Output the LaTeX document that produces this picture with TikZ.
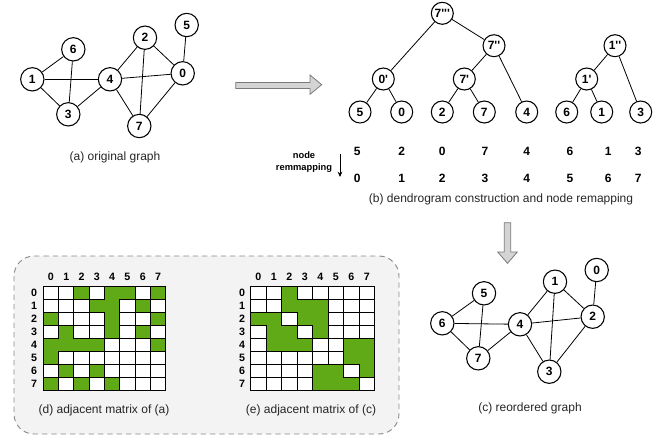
\documentclass[tikz,border=0pt]{standalone}
\usepackage{fontspec}
\setmainfont{Liberation Sans}
\usetikzlibrary{arrows.meta}
\definecolor{mgreen}{HTML}{60A917}
\definecolor{boxfill}{HTML}{F3F3F3}
\definecolor{boxline}{HTML}{8A8A8A}
\definecolor{arrfill}{HTML}{D4D4D4}
\definecolor{arrline}{HTML}{7A7A7A}
\newcommand{\pr}{\textquotesingle}
\tikzset{
  gnode/.style={circle,draw=black,line width=0.8pt,fill=white,minimum size=17.5pt,inner sep=0pt,font=\fontsize{9}{10}\selectfont\bfseries},
  tnode/.style={circle,draw=black,line width=0.8pt,fill=white,minimum size=16.5pt,inner sep=0pt,font=\fontsize{9}{10}\selectfont\bfseries},
  edge/.style={line width=0.6pt,black},
  caption/.style={font=\fontsize{9}{10}\selectfont,text=black!85},
  remap/.style={font=\fontsize{9}{10}\selectfont\bfseries},
  mlabel/.style={font=\fontsize{8}{9}\selectfont\bfseries,inner sep=0pt},
  bigarrow/.style={fill=arrfill,draw=arrline,line width=0.6pt},
}
\begin{document}
\begin{tikzpicture}[x=0.75pt,y=-0.75pt]
\useasboundingbox (0,0) rectangle (667,436);

% ---------- (a) original graph ----------
\node[gnode] (a6) at (73.3,49.3) {6};
\node[gnode] (a1) at (32.3,79.3) {1};
\node[gnode] (a3) at (68.3,114.3) {3};
\node[gnode] (a4) at (110,79.3) {4};
\node[gnode] (a2) at (145,37.7) {2};
\node[gnode] (a0) at (182.7,73.3) {0};
\node[gnode] (a5) at (186.7,25) {5};
\node[gnode] (a7) at (139.3,126) {7};
\begin{scope}[on background layer/.style={}]
\foreach \u/\v in {a1/a6,a1/a4,a1/a3,a6/a3,a3/a4,a4/a2,a4/a0,a4/a7,a2/a0,a2/a7,a0/a7,a0/a5}
  \draw[edge] (\u) -- (\v);
\end{scope}
\node[caption] (capa) at (115,157) {(a) original graph};

% ---------- big right arrow ----------
\draw[bigarrow] (235.7,82.5) -- (310,82.5) -- (310,75) -- (321.7,84.7) -- (310,94.3) -- (310,88.5) -- (235.7,88.5) -- cycle;

% ---------- (b) dendrogram ----------
\node[tnode] (t7ppp) at (442.3,13.3) {7\pr\pr\pr};
\node[tnode] (t7pp) at (494,45.7) {7\pr\pr};
\node[tnode] (t0p) at (383.3,79) {0\pr};
\node[tnode] (t7p) at (464.3,79) {7\pr};
\node[tnode] (t1pp) at (615,45.7) {1\pr\pr};
\node[tnode] (t1p) at (586.7,79) {1\pr};
\node[tnode] (l5) at (360,112) {5};
\node[tnode] (l0) at (401.7,112) {0};
\node[tnode] (l2) at (442.3,112) {2};
\node[tnode] (l7) at (484.3,112) {7};
\node[tnode] (l4) at (526.7,112) {4};
\node[tnode] (l6) at (566.7,112) {6};
\node[tnode] (l1) at (601.7,112) {1};
\node[tnode] (l3) at (640.7,112) {3};
\foreach \u/\v in {t7ppp/t0p,t7ppp/t7pp,t7pp/t7p,t7pp/l4,t0p/l5,t0p/l0,t7p/l2,t7p/l7,t1pp/t1p,t1pp/l3,t1p/l6,t1p/l1}
  \draw[edge] (\u) -- (\v);

% node remapping
\node[font=\fontsize{7}{8.5}\selectfont\bfseries,align=center,inner sep=0pt] (remlab) at (304,162) {node\\remmapping};
\coordinate (rs) at (340,154);
\coordinate (re) at (340,177);
\draw[line width=0.7pt,-{Stealth[length=4pt,width=3.5pt]}] (rs) -- (re);
\foreach \i/\x/\a/\b in {1/357.3/5/0,2/401.7/2/1,3/442.3/0/2,4/485/7/3,5/526.7/4/4,6/570/6/5,7/608.3/1/6,8/638.3/3/7}{
  \node[remap] (ra\i) at (\x,151) {\a};
  \node[remap] (rb\i) at (\x,178.5) {\b};
}
\node[caption] (capb) at (501,199.5) {(b) dendrogram construction and node remapping};

% ---------- big down arrow ----------
\draw[bigarrow] (504.3,222.7) -- (510.7,222.7) -- (510.7,252) -- (517.3,252) -- (507.5,263.3) -- (497.7,252) -- (504.3,252) -- cycle;

% ---------- (c) reordered graph ----------
\node[gnode] (c0) at (596.7,270) {0};
\node[gnode] (c1) at (555,281.7) {1};
\node[gnode] (c5) at (484,293.3) {5};
\node[gnode] (c2) at (592.7,316.7) {2};
\node[gnode] (c6) at (442.3,323.3) {6};
\node[gnode] (c4) at (520,324.3) {4};
\node[gnode] (c7) at (478.3,358.3) {7};
\node[gnode] (c3) at (549.3,371.7) {3};
\foreach \u/\v in {c5/c6,c5/c7,c6/c4,c6/c7,c7/c4,c4/c1,c4/c2,c4/c3,c1/c2,c1/c3,c2/c3,c0/c2}
  \draw[edge] (\u) -- (\v);
\node[caption] (capc) at (530,408.5) {(c) reordered graph};

% ---------- dashed container ----------
\draw[boxline,fill=boxfill,dashed,dash pattern=on 4pt off 3pt,line width=0.7pt,rounded corners=15pt] (14,256) rectangle (399,434);

% ---------- matrix (d) ----------
\def\cw{15.3}\def\ch{13}\def\mx{43.3}\def\my{286.7}
\foreach \r/\row in {0/{0,0,1,0,1,1,0,1},1/{0,0,0,1,1,0,1,0},2/{1,0,0,0,1,0,0,1},3/{0,1,0,0,1,0,1,0},4/{1,1,1,1,0,0,0,1},5/{1,0,0,0,0,0,0,0},6/{0,1,0,1,0,0,0,0},7/{1,0,1,0,1,0,0,0}}{
  \foreach \v [count=\c from 0] in \row {
    \ifnum\v=1 \fill[mgreen] ({\mx+\c*\cw},{\my+\r*\ch}) rectangle ++(\cw,\ch); \fi
  }
}
\foreach \r/\row in {0/{0,0,1,0,1,1,0,1},1/{0,0,0,1,1,0,1,0},2/{1,0,0,0,1,0,0,1},3/{0,1,0,0,1,0,1,0},4/{1,1,1,1,0,0,0,1},5/{1,0,0,0,0,0,0,0},6/{0,1,0,1,0,0,0,0},7/{1,0,1,0,1,0,0,0}}{
  \foreach \v [count=\c from 0] in \row {
    \ifnum\v=0 \draw[black,fill=white,line width=0.75pt] ({\mx+\c*\cw},{\my+\r*\ch}) rectangle ++(\cw,\ch); \fi
  }
}
\draw[black,line width=0.75pt] (\mx,\my) rectangle ({\mx+8*\cw},{\my+8*\ch});
\foreach \i in {0,...,7}{
  \node[mlabel] (dc\i) at ({\mx+(\i+0.5)*\cw},277) {\i};
  \node[mlabel] (dr\i) at (34,{\my+(\i+0.5)*\ch}) {\i};
}
\node[caption] (capd) at (104,410) {(d) adjacent matrix of (a)};

% ---------- matrix (e) ----------
\def\cw{15.5}\def\mx{250.5}
\foreach \r/\row in {0/{0,0,1,0,0,0,0,0},1/{0,0,1,1,1,0,0,0},2/{1,1,0,1,1,0,0,0},3/{0,1,1,0,1,0,0,0},4/{0,1,1,1,0,0,1,1},5/{0,0,0,0,0,0,1,1},6/{0,0,0,0,1,1,0,1},7/{0,0,0,0,1,1,1,0}}{
  \foreach \v [count=\c from 0] in \row {
    \ifnum\v=1 \fill[mgreen] ({\mx+\c*\cw},{\my+\r*\ch}) rectangle ++(\cw,\ch); \fi
  }
}
\foreach \r/\row in {0/{0,0,1,0,0,0,0,0},1/{0,0,1,1,1,0,0,0},2/{1,1,0,1,1,0,0,0},3/{0,1,1,0,1,0,0,0},4/{0,1,1,1,0,0,1,1},5/{0,0,0,0,0,0,1,1},6/{0,0,0,0,1,1,0,1},7/{0,0,0,0,1,1,1,0}}{
  \foreach \v [count=\c from 0] in \row {
    \ifnum\v=0 \draw[black,fill=white,line width=0.75pt] ({\mx+\c*\cw},{\my+\r*\ch}) rectangle ++(\cw,\ch); \fi
  }
}
\draw[black,line width=0.75pt] (\mx,\my) rectangle ({\mx+8*\cw},{\my+8*\ch});
\foreach \i in {0,...,7}{
  \node[mlabel] (ec\i) at ({\mx+(\i+0.5)*\cw},277) {\i};
  \node[mlabel] (er\i) at (242,{\my+(\i+0.5)*\ch}) {\i};
}
\node[caption] (cape) at (311,410) {(e) adjacent matrix of (c)};

\end{tikzpicture}
\end{document}
